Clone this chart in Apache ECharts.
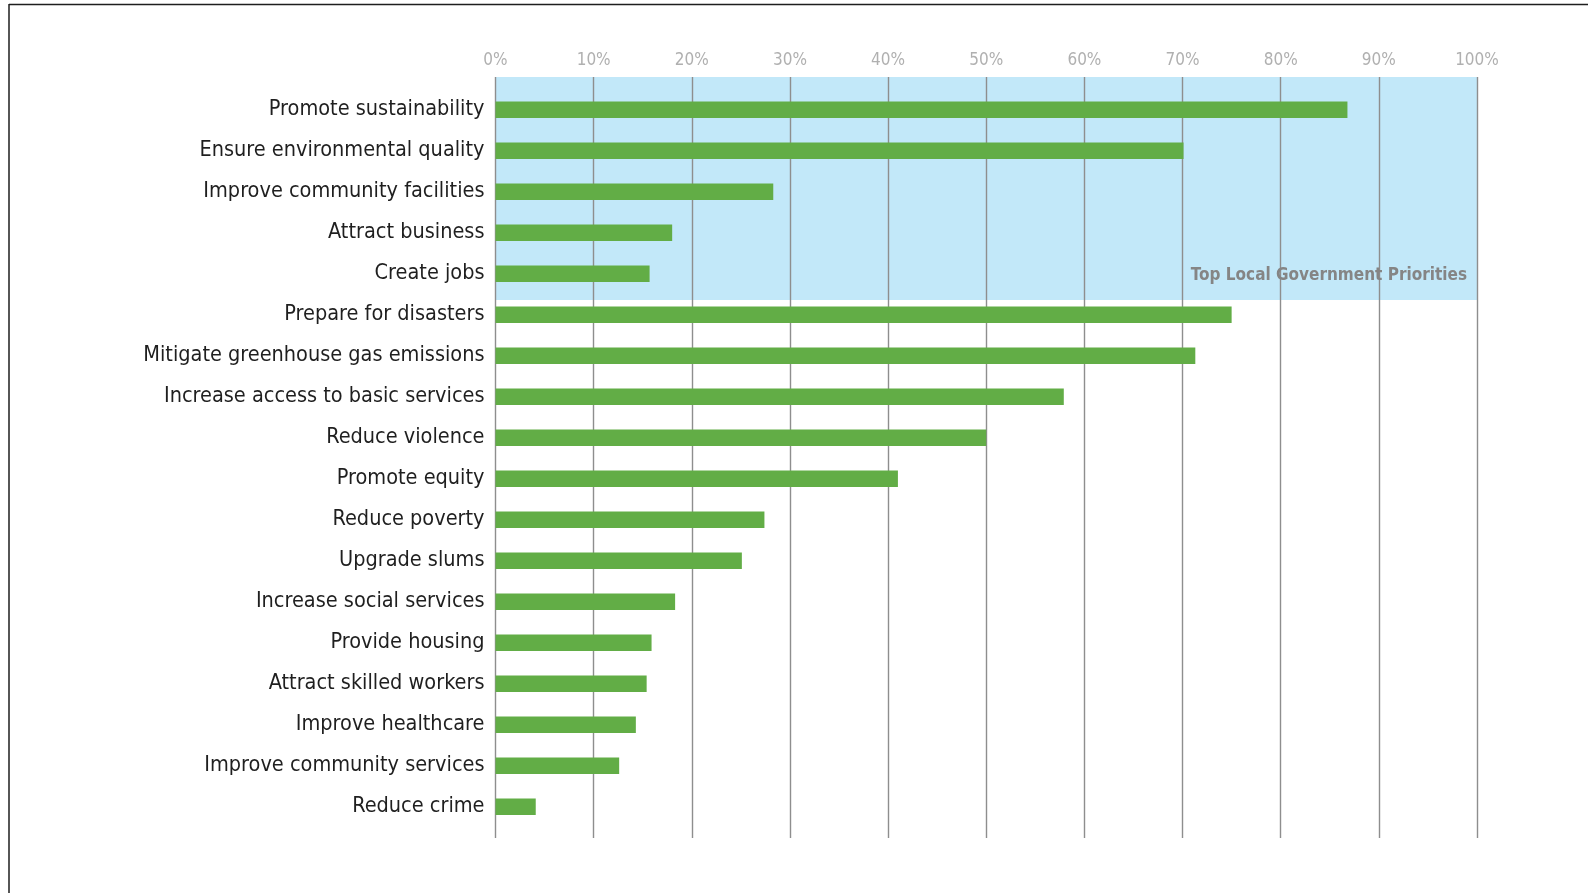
<!DOCTYPE html>
<html>
<head>
<meta charset="utf-8">
<title>Top Local Government Priorities</title>
<script src="https://cdn.jsdelivr.net/npm/echarts@6/dist/echarts.min.js"></script>
<style>
  html, body { margin: 0; padding: 0; background: #fff; }
  #chart { width: 1588px; height: 893px; }
</style>
</head>
<body>
<div id="chart"></div>
<script>
// Survey categories, top to bottom
const categories = [
  'Promote sustainability',
  'Ensure environmental quality',
  'Improve community facilities',
  'Attract business',
  'Create jobs',
  'Prepare for disasters',
  'Mitigate greenhouse gas emissions',
  'Increase access to basic services',
  'Reduce violence',
  'Promote equity',
  'Reduce poverty',
  'Upgrade slums',
  'Increase social services',
  'Provide housing',
  'Attract skilled workers',
  'Improve healthcare',
  'Improve community services',
  'Reduce crime'
];

// Share of respondents (%)
const shares = [
  86.8, 70.1, 28.3, 18.0, 15.7,
  75.0, 71.3, 57.9, 50.0, 41.0,
  27.4, 25.1, 18.3, 15.9, 15.4,
  14.3, 12.6, 4.1
];

// Percentage axis
const axisMin = 0;
const axisMax = 100;
const axisStep = 10;

// Highlighted group (first five categories)
const bandTitle = 'Top Local Government Priorities';
const bandFirst = 0;
const bandLast = 4;

const narrow = '"Liberation Sans Narrow", "DejaVu Sans Condensed", "Arial Narrow", sans-serif';

// Row units on the frame grid: rows sit at integer positions,
// the frame reaches a little beyond the first and last row.
const rowPad = 0.8;
const bandBottom = bandLast + 0.64;

const frameLines = [
  { type: 'line', shape: { x1: 9, y1: 4.5, x2: 1600, y2: 4.5 }, style: { stroke: '#1e1e1e', lineWidth: 1.5 } },
  { type: 'line', shape: { x1: 9, y1: 4, x2: 9, y2: 900 }, style: { stroke: '#1e1e1e', lineWidth: 1.5 } }
];

const chart = echarts.init(document.getElementById('chart'), null, { renderer: 'canvas' });

chart.setOption({
  backgroundColor: '#ffffff',
  animation: false,
  graphic: frameLines,
  grid: [
    // frame grid: percentage ticks, vertical rules and the highlight band
    { left: 495.5, right: 111, top: 77, bottom: 55, outerBoundsMode: 'none' },
    // bar grid
    { left: 495.5, right: 111, top: 89.3, bottom: 65.7, outerBoundsMode: 'none' }
  ],
  xAxis: [
    {
      gridIndex: 0,
      type: 'value',
      position: 'top',
      min: axisMin,
      max: axisMax,
      interval: axisStep,
      z: 3,
      axisLine: { show: false },
      axisTick: { show: false },
      axisLabel: {
        formatter: '{value}%',
        color: '#b0b0b0',
        fontFamily: narrow,
        fontSize: 17,
        margin: 8
      },
      splitLine: { show: true, lineStyle: { color: '#8e8e8e', width: 1.4 } }
    },
    {
      gridIndex: 1,
      type: 'value',
      min: axisMin,
      max: axisMax,
      interval: axisStep,
      show: false,
      splitLine: { show: false }
    }
  ],
  yAxis: [
    {
      gridIndex: 0,
      type: 'value',
      inverse: true,
      min: -rowPad,
      max: categories.length - 1 + 0.76,
      show: false,
      splitLine: { show: false }
    },
    {
      gridIndex: 1,
      type: 'category',
      inverse: true,
      data: categories,
      axisLine: { show: false },
      axisTick: { show: false },
      axisLabel: {
        color: '#1f1f1f',
        fontFamily: narrow,
        fontSize: 21.5,
        margin: 11
      },
      splitLine: { show: false }
    }
  ],
  series: [
    {
      type: 'scatter',
      xAxisIndex: 0,
      yAxisIndex: 0,
      data: [],
      z: 0,
      silent: true,
      markArea: {
        silent: true,
        z: 0,
        itemStyle: { color: '#c2e8f9' },
        label: { show: false },
        data: [[
          { coord: [axisMin, bandFirst - rowPad] },
          { coord: [axisMax, bandBottom] }
        ]]
      }
    },
    {
      type: 'bar',
      xAxisIndex: 1,
      yAxisIndex: 1,
      data: shares,
      barWidth: 16.5,
      z: 5,
      itemStyle: { color: '#62ad46' }
    }
  ]
});

// Band title, anchored to the band's lower right corner
const corner = chart.convertToPixel({ xAxisIndex: 0, yAxisIndex: 0 }, [axisMax, bandBottom]);
chart.setOption({
  graphic: frameLines.concat([
    {
      type: 'text',
      x: corner[0] - 10,
      y: corner[1] - 24,
      z: 10,
      silent: true,
      style: {
        text: bandTitle,
        align: 'right',
        verticalAlign: 'middle',
        fill: '#858585',
        font: 'bold 17px ' + narrow
      }
    }
  ])
});
</script>
</body>
</html>
